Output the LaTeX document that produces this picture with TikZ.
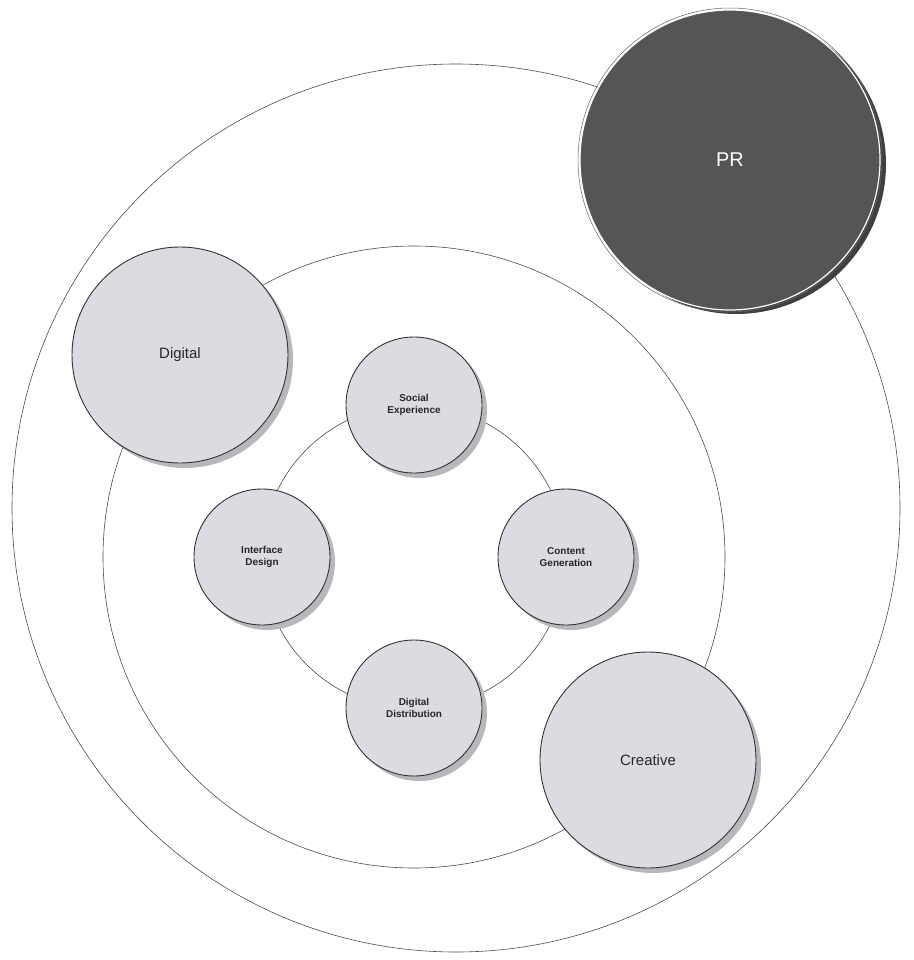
\documentclass[tikz,border=0pt]{standalone}
\usepackage{fontspec}
\setmainfont{Liberation Sans}
\begin{document}
\begin{tikzpicture}[x=1bp,y=-1bp]
\definecolor{bub}{HTML}{DCDBE1}
\definecolor{shad}{HTML}{B8B8BC}
\definecolor{prc}{HTML}{555555}
\tikzset{ring/.style={draw=black!70,line width=0.6bp},
bubble/.style={circle,draw=black!80,line width=0.9bp,fill=bub,align=center,inner sep=0pt,text=black!85}}
\useasboundingbox (0,0) rectangle (914,960);
\fill[white] (0,0) rectangle (914,960);
\draw[ring] (456,508) circle (444);
\draw[ring] (414,557) circle (311);
\draw[ring] (414,557) circle (152);
% shadows
\foreach \x/\y/\r in {414/405/68,566/557/68,414/708/68,262/557/68,180/355/108,648/760/108}
  \fill[shad] (\x+5,\y+5) circle (\r);
\fill[black!75] (736,164) circle (150);
\node[bubble,minimum size=136bp,font=\bfseries\fontsize{10}{12}\selectfont] (soc) at (414,405) {Social\\Experience};
\node[bubble,minimum size=136bp,font=\bfseries\fontsize{10}{12}\selectfont] (con) at (566,557) {Content\\Generation};
\node[bubble,minimum size=136bp,font=\bfseries\fontsize{10}{12}\selectfont] (dis) at (414,708) {Digital\\Distribution};
\node[bubble,minimum size=136bp,font=\bfseries\fontsize{10}{12}\selectfont] (int) at (262,557) {Interface\\Design};
\node[bubble,minimum size=216bp,font=\fontsize{15}{18}\selectfont] (dig) at (180,355) {Digital};
\node[bubble,minimum size=216bp,font=\fontsize{15}{18}\selectfont] (cre) at (648,760) {Creative};
\node[circle,draw=white,line width=1.2bp,fill=prc,minimum size=300bp,text=white,font=\fontsize{20}{24}\selectfont] (pr) at (730,160) {PR};
\draw[black!60,line width=0.5bp] (730,160) circle (152);
\end{tikzpicture}
\end{document}
